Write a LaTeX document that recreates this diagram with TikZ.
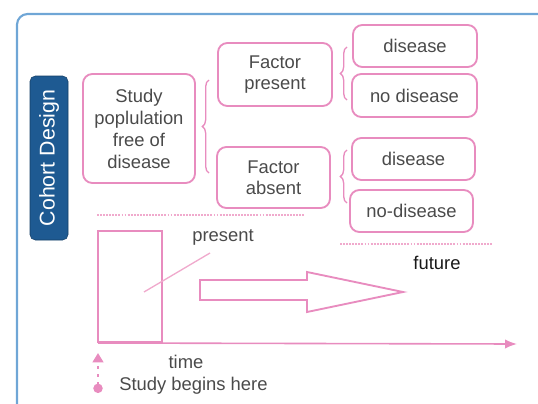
\documentclass[tikz,border=0pt]{standalone}
\usepackage{fontspec}
\setmainfont{Liberation Sans}
\usetikzlibrary{arrows.meta,decorations.pathreplacing}
\definecolor{pk}{HTML}{E88CBF}
\definecolor{pkl}{HTML}{F0AACD}
\definecolor{tx}{HTML}{4A4A4A}
\definecolor{bl}{HTML}{1E5A92}
\definecolor{fr}{HTML}{6FA6D6}
\tikzset{
  box/.style={draw=pk, line width=1.4pt, rounded corners=7pt, inner sep=0pt, align=center, text=tx, font=\fontsize{13.8}{15.5}\selectfont},
  brc/.style={draw=pk, line width=1pt, decorate, decoration={brace, amplitude=5pt}},
  dots/.style={draw=pkl, line width=1.8pt, dash pattern=on 1.4pt off 0.9pt},
  lbl/.style={text=tx, font=\fontsize{13.8}{15.5}\selectfont, inner sep=0pt}
}
\begin{document}
\begin{tikzpicture}[x=0.75pt, y=-0.75pt]
\useasboundingbox (0,0) rectangle (538,403);
% frame
\draw[fr, line width=1.6pt, rounded corners=8pt] (17,410) -- (17,14) -- (545,14);
% label
\node[draw=bl!70!black, fill=bl, rounded corners=4pt, rotate=90, minimum width=123pt, minimum height=28.5pt, inner sep=0pt, text=white, font=\fontsize{16}{18}\selectfont] (lab) at (49,158) {Cohort Design};
% boxes
\node[box, minimum width=84pt, minimum height=81.75pt, font=\fontsize{13.8}{16.5}\selectfont] (study) at (139,128.5) {Study\\poplulation\\free of\\disease};
\node[box, minimum width=85.5pt, minimum height=47.25pt] (fp) at (275,74.5) {Factor\\present};
\node[box, minimum width=84.75pt, minimum height=45.75pt] (fa) at (273.5,177.5) {Factor\\absent};
\node[box, minimum width=93pt, minimum height=31.5pt] (d1) at (415,46) {disease};
\node[box, minimum width=93.75pt, minimum height=32.25pt] (nd1) at (414.5,95.5) {no disease};
\node[box, minimum width=92.25pt, minimum height=31.5pt] (d2) at (413.5,159) {disease};
\node[box, minimum width=92.25pt, minimum height=31.5pt] (nd2) at (411.5,211) {no-disease};
% braces
\coordinate (b1s) at (209,173); \coordinate (b1e) at (209,80);
\coordinate (b2s) at (347,100); \coordinate (b2e) at (347,47);
\coordinate (b3s) at (347,203); \coordinate (b3e) at (347,150);
\draw[brc] (b1s) -- (b1e);
\draw[brc] (b2s) -- (b2e);
\draw[brc] (b3s) -- (b3e);
% dotted lines
\coordinate (dl1a) at (97,215); \coordinate (dl1b) at (305,215);
\coordinate (dl2a) at (340,244); \coordinate (dl2b) at (492,244);
\draw[dots] (dl1a) -- (dl1b);
\draw[dots] (dl2a) -- (dl2b);
% present rectangle
\draw[pk, line width=1.2pt] (98,231) rectangle (162,342);
\node[lbl] (present) at (223,237) {present};
\coordinate (pl1) at (144,292); \coordinate (pl2) at (210,253);
\draw[pkl, line width=1pt] (pl1) -- (pl2);
% block arrow
\draw[pk, line width=1.4pt, line join=miter] (200,280) -- (307,280) -- (307,272) -- (403,292) -- (307,312) -- (307,300) -- (200,300) -- cycle;
\node[text=black!90, font=\fontsize{13.8}{15.5}\selectfont, inner sep=0pt] (future) at (437,263) {future};
% time axis
\coordinate (t0) at (98,343); \coordinate (t1) at (517,344);
\draw[pk, line width=1.2pt, -{Latex[length=9pt,width=7pt]}] (t0) -- (t1);
\node[lbl] (time) at (186,362) {time};
% study begins
\coordinate (s0) at (98,393); \coordinate (s1) at (98,353);
\draw[pk, line width=1.6pt, dash pattern=on 2pt off 4pt, {Circle[length=7pt]}-{Triangle[length=7pt,width=8pt]}] (s0) -- (s1);
\node[lbl, anchor=west] (sbh) at (119,386) {Study begins here};
\end{tikzpicture}
\end{document}
